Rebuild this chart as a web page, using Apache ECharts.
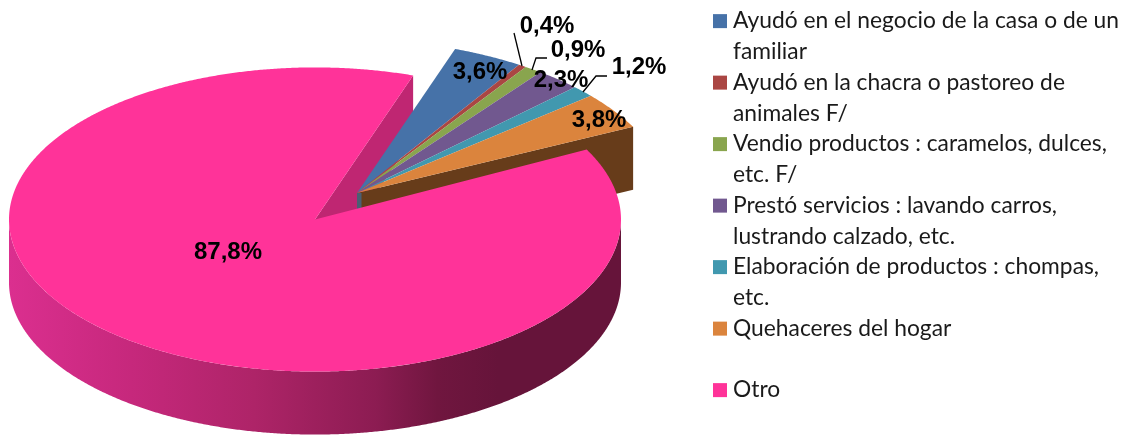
<!DOCTYPE html>
<html><head><meta charset="utf-8">
<style>html,body{margin:0;padding:0;background:#fff}#c{width:1126px;height:435px}</style>
<script src="https://cdn.jsdelivr.net/npm/echarts@6/dist/echarts.min.js"></script>
</head><body><div id="c"></div>
<script>
const categories = [
  'Ayudó en el negocio de la casa o de un\nfamiliar',
  'Ayudó en la chacra o pastoreo de\nanimales F/',
  'Vendio productos : caramelos, dulces,\netc. F/',
  'Prestó servicios : lavando carros,\nlustrando calzado, etc.',
  'Elaboración de productos : chompas,\netc.',
  'Quehaceres del hogar',
  'Otro'
];
const values = [3.6, 0.4, 0.9, 2.3, 1.2, 3.8, 87.8];
const colors = ['#4672A8', '#AA4643', '#89A54E', '#71588F', '#4198AF', '#DB843D', '#FF3399'];

// projection of the tilted pie
const firstAngle = 71.3, R = 306, tilt = 0.497, depth = 63;
const pieCentre = [315, 219.5], groupCentre = [357, 193];
// small perspective correction of the pulled-out group
const groupShear = [[0.0196,0.01336],[0.01696,0.01153]];
// label centres and leader lines (index matches values)
const labelPos = [[480,72],[547,26],[578,50],[561,80],[639,67],[599,120],[228,252]];
const leaders = {1:[[514,33],[522,66]], 2:[[547,58],[536,58],[532,70]], 4:[[607,76],[596,76],[583,92]]};

const total = values.reduce((a,b)=>a+b,0);
const spans = []; { let a = firstAngle;
  values.forEach(v => { const e = a - v/total*360; spans.push([a,e]); a = e; }); }
const onRim = (c,a,dy=0) => { const t=a*Math.PI/180;
  let dx=R*Math.cos(t), dz=-R*tilt*Math.sin(t);
  if(c===groupCentre){ const x=dx,z=dz; dx=x+groupShear[0][0]*x+groupShear[0][1]*z; dz=z+groupShear[1][0]*x+groupShear[1][1]*z; }
  return [c[0]+dx, c[1]+dz+dy]; };
const arc = (c,a0,a1,dy=0) => { const n=Math.ceil(Math.abs(a0-a1)*3), p=[];
  for(let i=0;i<=n;i++) p.push(onRim(c,a0+(a1-a0)*i/n,dy)); return p; };
const centreOf = i => i===values.length-1 ? pieCentre : groupCentre;
const cutFace = (c,a,col) => { const r=onRim(c,a);
  return {type:'polygon',shape:{points:[c,r,[r[0],r[1]+depth],[c[0],c[1]+depth]]},style:{fill:col}}; };

const backSeries = {
  type:'custom', name:'caras', coordinateSystem:'none', silent:true, z:1, animation:false, data:[[0]],
  renderItem(){
    const last=spans[values.length-2];
    return {type:'group',children:[
      cutFace(pieCentre, firstAngle, '#BF2672'),
      cutFace(groupCentre, last[1], '#673C1A'),
      {type:'polygon',shape:{points:[groupCentre,[groupCentre[0]+4.5,groupCentre[1]],
        [groupCentre[0]+4.5,groupCentre[1]+depth],[groupCentre[0],groupCentre[1]+depth]]},style:{fill:'#4A5F73'}}
    ]};
  }
};
const sliceSeries = categories.map((name,i)=>({
  type:'custom', name, coordinateSystem:'none', silent:true, z:2, animation:false,
  itemStyle:{color:colors[i]}, data:[[values[i]]],
  renderItem(){
    const c=centreOf(i), [a0,a1]=spans[i], kids=[];
    if(i===values.length-1){
      const top=arc(c,-180,0), bot=arc(c,0,-180,depth);
      kids.push({type:'polygon',shape:{points:top.concat(bot)},style:{fill:{type:'linear',x:0,y:0,x2:1,y2:0,colorStops:[
        {offset:0,color:'#DB2F8F'},{offset:.2,color:'#C6287C'},{offset:.4,color:'#AE2468'},
        {offset:.6,color:'#8C1C52'},{offset:.7,color:'#70163F'},{offset:.8,color:'#66143A'},{offset:1,color:'#66143A'}]}}});
    }
    kids.push({type:'polygon',shape:{points:[c].concat(arc(c,a0,a1))},style:{fill:colors[i]}});
    return {type:'group',children:kids};
  }
}));
const labelSeries = {
  type:'custom', name:'etiquetas', coordinateSystem:'none', silent:true, z:3, animation:false,
  data:values.map((v,i)=>[v,i]),
  renderItem(p,api){
    const i=api.value(1), kids=[];
    if(leaders[i]) kids.push({type:'polyline',shape:{points:leaders[i]},style:{stroke:'#000',lineWidth:1.3,fill:'none'}});
    kids.push({type:'text',style:{text:api.value(0).toFixed(1).replace('.',',')+'%',x:labelPos[i][0],y:labelPos[i][1],
      fill:'#000',fontFamily:'Liberation Sans',fontWeight:'bold',fontSize:24,align:'center',verticalAlign:'middle'}});
    return {type:'group',children:kids};
  }
};
const chart = echarts.init(document.getElementById('c'),null,{renderer:'canvas'});
chart.setOption({
  animation:false, backgroundColor:'#fff',
  legend:{
    data:categories, orient:'vertical', left:713, top:-25, height:700, width:413, padding:0, icon:'rect',
    itemWidth:14, itemHeight:14, itemGap:-30.75, selectedMode:false, align:'left',
    textStyle:{fontFamily:'Lato',fontSize:22.8,color:'#1a1a1a',lineHeight:30.75,padding:[0,0,0,1]},
    formatter:n=> '\n'+n+(n.includes('\n')?'':'\n ')
  },
  series:[backSeries,...sliceSeries,labelSeries]
});
</script></body></html>
